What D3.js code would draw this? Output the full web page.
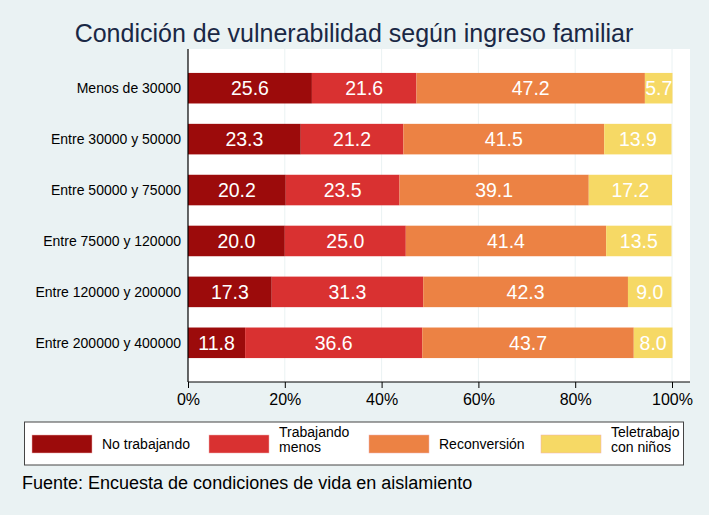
<!DOCTYPE html>
<html><head><meta charset="utf-8">
<script src="https://cdn.jsdelivr.net/npm/d3@7"></script>
<style>body{margin:0;background:#EAF2F3;} svg{display:block;font-family:"Liberation Sans",Arial,sans-serif;}</style>
</head><body>
<script>
const categories = ["Menos de 30000","Entre 30000 y 50000","Entre 50000 y 75000","Entre 75000 y 120000","Entre 120000 y 200000","Entre 200000 y 400000"];
const seriesNames = ["No trabajando","Trabajando menos","Reconversión","Teletrabajo con niños"];
const seriesLegend = [["No trabajando"],["Trabajando","menos"],["Reconversión"],["Teletrabajo","con niños"]];
const noTrabajando = [25.6,23.3,20.2,20.0,17.3,11.8];
const trabajandoMenos = [21.6,21.2,23.5,25.0,31.3,36.6];
const reconversion = [47.2,41.5,39.1,41.4,42.3,43.7];
const teletrabajo = [5.7,13.9,17.2,13.5,9.0,8.0];
const xTicks = [0,20,40,60,80,100];
const colors = ["#9C0B0B","#D93131","#EC8244","#F6D965"];

const W=709,H=515;
const svg=d3.select("body").append("svg").attr("width",W).attr("height",H);
svg.append("rect").attr("width",W).attr("height",H).attr("fill","#EAF2F3");

const pl=188,pr=690,pt=49,pb=382;
svg.append("rect").attr("x",pl).attr("y",pt).attr("width",pr-pl).attr("height",pb-pt).attr("fill","#fff");

const x=d3.scaleLinear().domain([0,100]).range([188,672]);
const y=d3.scaleBand().domain(categories).range([pt,pb]).paddingInner(0.4).paddingOuter(0.47);

// gridlines
svg.append("g").selectAll("line").data(xTicks.filter(d=>d>0)).join("line")
 .attr("x1",d=>x(d)).attr("x2",d=>x(d)).attr("y1",pt).attr("y2",pb)
 .attr("stroke","#EAF2F3").attr("stroke-width",1);

const series=[noTrabajando,trabajandoMenos,reconversion,teletrabajo];
const rows=categories.map((c,i)=>{const o={cat:c};seriesNames.forEach((s,j)=>o[s]=series[j][i]);return o;});
const stacked=d3.stack().keys(seriesNames)(rows);

const g=svg.append("g");
stacked.forEach((layer,j)=>{
  g.selectAll(null).data(layer).join("rect")
   .attr("x",d=>x(d[0])).attr("width",d=>x(d[1])-x(d[0]))
   .attr("y",d=>y(d.data.cat)).attr("height",y.bandwidth())
   .attr("fill",colors[j]);
  g.selectAll(null).data(layer).join("text")
   .attr("x",d=>(x(d[0])+x(d[1]))/2).attr("y",d=>y(d.data.cat)+y.bandwidth()/2)
   .attr("dy","0.36em").attr("text-anchor","middle").attr("fill","#fff")
   .attr("font-size",19.5).text(d=>(d[1]-d[0]).toFixed(1));
});

// y axis
svg.append("line").attr("x1",pl).attr("x2",pl).attr("y1",pt).attr("y2",pb).attr("stroke","#000").attr("stroke-width",1.2);
svg.append("g").selectAll("text").data(categories).join("text")
 .attr("x",181).attr("y",d=>y(d)+y.bandwidth()/2).attr("dy","0.36em")
 .attr("text-anchor","end").attr("font-size",14).attr("fill","#000").text(d=>d);

// x axis
const xa=svg.append("g").attr("transform",`translate(0,${pb})`)
 .call(d3.axisBottom(x).tickValues(xTicks).tickSize(6).tickFormat(d=>d+"%"));
xa.select(".domain").attr("d",`M${pl},0H${pr}`).attr("stroke","#000");
xa.selectAll(".tick line").attr("stroke","#000");
xa.selectAll(".tick text").attr("font-size",16).attr("font-family","Liberation Sans, Arial, sans-serif").attr("fill","#000").attr("dy","0.9em");

// title
svg.append("text").attr("x",354).attr("y",42).attr("text-anchor","middle").attr("font-size",25).attr("fill","#1A2845")
 .text("Condición de vulnerabilidad según ingreso familiar");

// legend
svg.append("rect").attr("x",24.5).attr("y",422).attr("width",659).attr("height",43).attr("fill","#fff").attr("stroke","#444").attr("stroke-width",1);
const legX=[32,209,369,541];
seriesNames.forEach((s,j)=>{
  svg.append("rect").attr("x",legX[j]).attr("y",435).attr("width",60).attr("height",18).attr("fill",colors[j]).attr("stroke","#f0b0b0").attr("stroke-width",0.5);
  const lines=seriesLegend[j];
  const t=svg.append("text").attr("font-size",14).attr("fill","#000");
  lines.forEach((ln,k)=>{
    t.append("tspan").attr("x",legX[j]+70).attr("y",lines.length===1?449:437+k*15).text(ln);
  });
});

svg.append("text").attr("x",22).attr("y",489).attr("font-size",18).attr("fill","#000").text("Fuente: Encuesta de condiciones de vida en aislamiento");
</script>
</body></html>
